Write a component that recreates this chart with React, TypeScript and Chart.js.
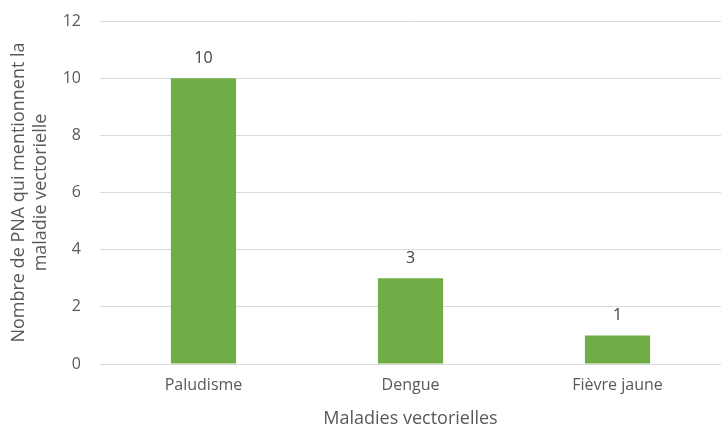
import React, { useEffect, useRef } from "react";
import { Chart, registerables } from "chart.js";

Chart.register(...registerables);

const categories = ["Paludisme", "Dengue", "Fièvre jaune"];
const values = [10, 3, 1];
const yTitleLines = ["Nombre de PNA qui mentionnent la", "maladie vectorielle"];
const xTitle = "Maladies vectorielles";

const FONT = "'Open Sans', sans-serif";

const valueLabels = {
  id: "valueLabels",
  afterDatasetsDraw(chart: any) {
    const ctx = chart.ctx;
    const meta = chart.getDatasetMeta(0);
    ctx.save();
    ctx.font = `16px ${FONT}`;
    ctx.fillStyle = "#404040";
    ctx.textAlign = "center";
    ctx.textBaseline = "middle";
    meta.data.forEach((bar: any, i: number) => {
      ctx.fillText(String(values[i]), bar.x, bar.y - 20);
    });
    ctx.restore();
  },
};

export default function App() {
  const ref = useRef<HTMLCanvasElement>(null);
  useEffect(() => {
    const chart = new Chart(ref.current!, {
      type: "bar",
      data: {
        labels: categories,
        datasets: [
          {
            data: values,
            backgroundColor: "#70AD47",
            barPercentage: 0.315,
            categoryPercentage: 1,
          },
        ],
      },
      options: {
        responsive: false,
        animation: false,
        layout: { padding: { top: 21, right: 0, bottom: 0, left: 8 } },
        plugins: { legend: { display: false }, tooltip: { enabled: false } },
        scales: {
          x: {
            grid: { display: false, drawTicks: false },
            border: { color: "#D9D9D9", width: 1 },
            ticks: { color: "#595959", font: { family: FONT, size: 16 }, padding: 12 },
            title: {
              display: true,
              text: xTitle,
              color: "#595959",
              font: { family: FONT, size: 18 },
              padding: { top: 6, bottom: 0 },
            },
            afterFit: (s: any) => {
              s.height = 66;
            },
          },
          y: {
            min: 0,
            max: 12,
            ticks: { stepSize: 2, color: "#595959", font: { family: FONT, size: 16 }, padding: 19 },
            grid: { color: "#D9D9D9", drawTicks: false },
            border: { display: false },
            title: {
              display: true,
              text: yTitleLines,
              color: "#595959",
              font: { family: FONT, size: 18, lineHeight: 1.2 },
              padding: { top: 0, bottom: 0 },
            },
            afterFit: (s: any) => {
              s.width = 92;
              s.paddingTop = 0;
              s.paddingBottom = 0;
            },
          },
        },
      },
      plugins: [valueLabels],
    });
    return () => chart.destroy();
  }, []);
  return (
    <div style={{ position: "fixed", left: 0, top: 0, width: 721, height: 430, background: "#fff" }}>
      <canvas ref={ref} width={721} height={430} />
    </div>
  );
}
